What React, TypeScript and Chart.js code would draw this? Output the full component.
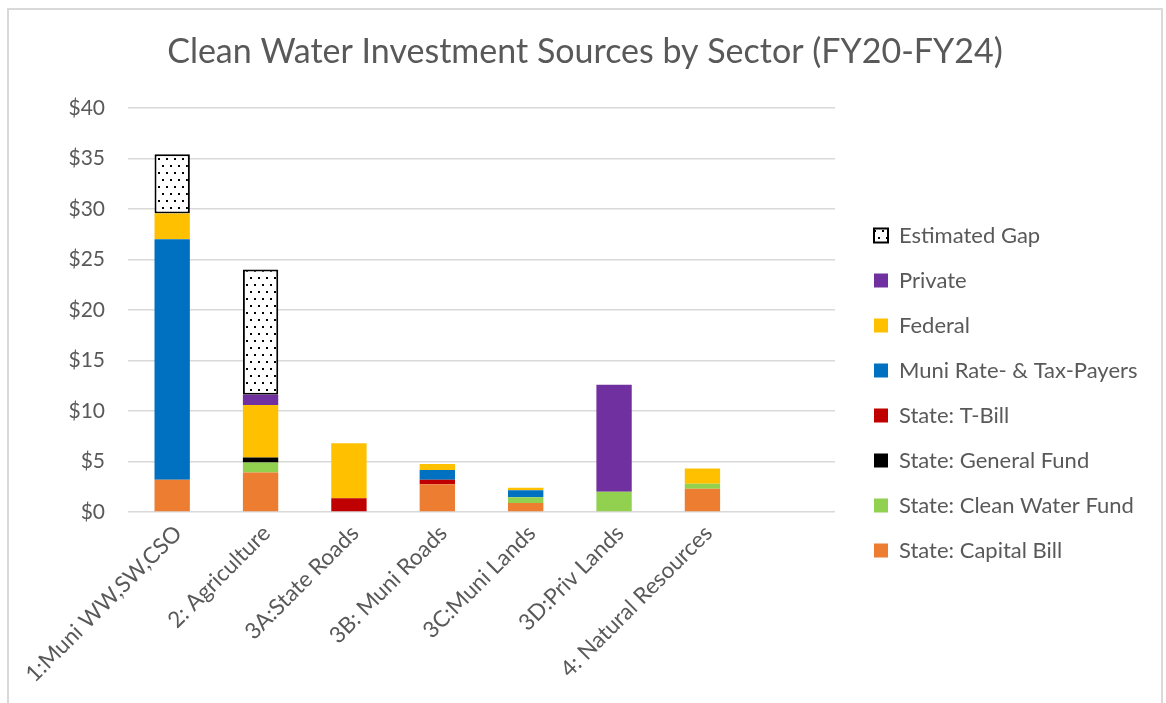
import React, { useEffect, useRef } from 'react';
import { Chart, registerables } from 'chart.js';

Chart.register(...registerables);

const categories = [
  '1:Muni WW,SW,CSO',
  '2: Agriculture',
  '3A:State Roads',
  '3B: Muni Roads',
  '3C:Muni Lands',
  '3D:Priv Lands',
  '4: Natural Resources',
  '',
];

const stateCapitalBill = [3.2, 3.9, null, 2.75, 0.9, null, 2.3, null];
const stateCleanWaterFund = [null, 1.0, null, null, 0.55, 2.0, 0.5, null];
const stateGeneralFund = [null, 0.5, null, null, null, null, null, null];
const stateTBill = [null, null, 1.35, 0.45, null, null, null, null];
const muniPayers = [23.8, null, null, 0.95, 0.7, null, null, null];
const federal = [2.55, 5.2, 5.45, 0.6, 0.25, null, 1.5, null];
const privateFunds = [null, 1.0, null, null, null, 10.6, null, null];
const estimatedGap = [5.85, 12.4, null, null, null, null, null, null];

const yTicks = [0, 5, 10, 15, 20, 25, 30, 35, 40];

const FONT = 'Lato';
const TEXT = '#595959';
const GRID = '#d9d9d9';

const CANVAS_W = 1152;
const CANVAS_H = 692;
const LEGEND_W = 326;
const LEGEND_DX = 16;
const LEGEND_DY = 37;

export default function App() {
  const ref = useRef<HTMLCanvasElement>(null);

  useEffect(() => {
    const canvas = ref.current!;
    const ctx = canvas.getContext('2d')!;

    const tile = document.createElement('canvas');
    tile.width = 8;
    tile.height = 14;
    const tg = tile.getContext('2d')!;
    tg.fillStyle = '#ffffff';
    tg.fillRect(0, 0, 8, 14);
    tg.fillStyle = '#000000';
    tg.fillRect(1, 1, 2, 2);
    tg.fillRect(5, 8, 2, 2);
    const pattern = ctx.createPattern(tile, 'repeat')!;

    const legendAdjust = {
      id: 'legendAdjust',
      beforeInit(chart: any) {
        const lg = chart.legend;
        if (!lg || lg.__patched) return;
        lg.__patched = true;
        const fit = lg.fit.bind(lg);
        lg.fit = function () {
          fit();
          this.width = LEGEND_W;
        };
        const draw = lg.draw.bind(lg);
        lg.draw = function (area: any) {
          const c = this.ctx;
          c.save();
          c.translate(LEGEND_DX, LEGEND_DY);
          draw(area);
          c.restore();
        };
      },
    };

    const solid = (label: string, data: (number | null)[], color: string) => ({
      label,
      data,
      backgroundColor: color,
      borderColor: color,
      borderWidth: 0,
      categoryPercentage: 1,
      barPercentage: 0.4,
    });

    const chart = new Chart(ctx, {
      type: 'bar',
      data: {
        labels: categories,
        datasets: [
          solid('State: Capital Bill', stateCapitalBill, '#ED7D31'),
          solid('State: Clean Water Fund', stateCleanWaterFund, '#92D050'),
          solid('State: General Fund', stateGeneralFund, '#000000'),
          solid('State: T-Bill', stateTBill, '#C00000'),
          solid('Muni Rate- & Tax-Payers', muniPayers, '#0070C0'),
          solid('Federal', federal, '#FFC000'),
          solid('Private', privateFunds, '#7030A0'),
          {
            label: 'Estimated Gap',
            data: estimatedGap,
            backgroundColor: pattern as any,
            borderColor: '#000000',
            borderWidth: 2,
            borderSkipped: false,
            categoryPercentage: 1,
            barPercentage: 0.4,
          } as any,
        ],
      },
      options: {
        responsive: false,
        animation: false,
        devicePixelRatio: 1,
        layout: { padding: 0 },
        plugins: {
          title: {
            display: true,
            text: 'Clean Water Investment Sources by Sector (FY20-FY24)',
            color: TEXT,
            font: { family: FONT, size: 34, weight: 'normal', lineHeight: 1.2 },
            padding: { top: 22, bottom: 35 },
          },
          legend: {
            display: true,
            position: 'right',
            reverse: true,
            labels: {
              color: TEXT,
              font: { family: FONT, size: 22 },
              boxWidth: 14,
              boxHeight: 14,
              padding: 23,
            },
          },
          tooltip: { enabled: false },
        },
        scales: {
          x: {
            stacked: true,
            grid: { display: false },
            border: { display: false },
            ticks: {
              color: TEXT,
              font: { family: FONT, size: 22.5 },
              maxRotation: 45,
              minRotation: 45,
              autoSkip: false,
              padding: 0,
              labelOffset: 6,
            },
            afterFit(scale: any) {
              scale.height = 190;
              scale.paddingLeft = 0;
              scale.paddingRight = 0;
            },
          },
          y: {
            stacked: true,
            min: 0,
            max: 40,
            afterBuildTicks(scale: any) {
              scale.ticks = yTicks.map((v) => ({ value: v }));
            },
            grid: { color: GRID, lineWidth: 1.5, drawTicks: false },
            border: { display: false },
            ticks: {
              color: TEXT,
              font: { family: FONT, size: 21 },
              padding: 23,
              callback: (v: any) => '$' + v,
            },
            afterFit(scale: any) {
              scale.width = 119;
            },
          },
        },
      },
      plugins: [legendAdjust as any],
    });

    return () => chart.destroy();
  }, []);

  return (
    <div style={{ position: 'fixed', left: 0, top: 0, width: 1166, height: 703, overflow: 'hidden', background: '#fff' }}>
      <div
        style={{
          position: 'absolute',
          left: 7,
          top: 8,
          width: CANVAS_W,
          height: 760,
          border: `2px solid ${GRID}`,
          background: '#fff',
        }}
      >
        <canvas ref={ref} width={CANVAS_W} height={CANVAS_H} style={{ display: 'block', width: CANVAS_W, height: CANVAS_H }} />
      </div>
    </div>
  );
}
